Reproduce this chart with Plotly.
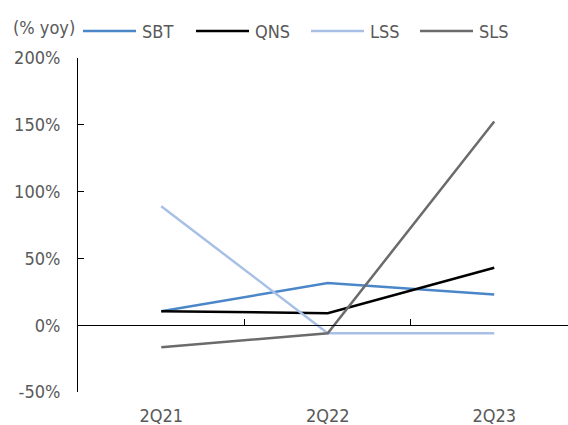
import plotly.graph_objects as go

categories = ["2Q21", "2Q22", "2Q23"]
sbt = [10.5, 31.5, 23.0]
qns = [10.5, 9.0, 43.0]
lss = [89.0, -6.0, -6.0]
sls = [-16.5, -6.0, 152.5]
y_ticks = [-50, 0, 50, 100, 150, 200]
y_tick_labels = ["-50%", "0%", "50%", "100%", "150%", "200%"]
series_names = ["SBT", "QNS", "LSS", "SLS"]
series_values = [sbt, qns, lss, sls]
series_colors = ["#4a86c8", "#000000", "#a9c0e6", "#6b6b6b"]

font_family = "DejaVu Sans Condensed, DejaVu Sans"
text_color = "#595959"
fsize = 18

W, H = 568, 425
ML, MR, MT, MB = 78, 0, 58, 33
PW, PH = W - ML - MR, H - MT - MB


def px_x(x):
    return (x - ML) / PW


def px_y(y):
    return (H - MB - y) / PH


fig = go.Figure()
for name, vals, color in zip(series_names, series_values, series_colors):
    fig.add_trace(go.Scatter(
        x=categories, y=vals, name=name, mode="lines",
        line=dict(color=color, width=2.5),
        xaxis="x", yaxis="y", showlegend=False,
    ))

# helper trace so the zero-line axis carries the same categories
fig.add_trace(go.Scatter(
    x=categories, y=[None] * 3, xaxis="x2", yaxis="y",
    showlegend=False, hoverinfo="skip", mode="lines",
))

# legend row: line sample followed by the series name
legend_starts = [83, 196, 311, 420]
sample_len = 53
shapes, annotations = [], []
for name, color, x0 in zip(series_names, series_colors, legend_starts):
    shapes.append(dict(
        type="line", xref="paper", yref="paper",
        x0=px_x(x0), x1=px_x(x0 + sample_len), y0=px_y(31), y1=px_y(31),
        line=dict(color=color, width=2.5),
    ))
    annotations.append(dict(
        text=name, xref="paper", yref="paper",
        x=px_x(x0 + sample_len + 4), y=px_y(32),
        xanchor="left", yanchor="middle", showarrow=False,
        font=dict(size=fsize, color=text_color),
    ))

annotations.append(dict(
    text="(% yoy)", xref="paper", yref="paper",
    x=px_x(11), y=px_y(27), xanchor="left", yanchor="middle",
    showarrow=False, font=dict(size=fsize, color=text_color),
))

fig.update_layout(
    width=W, height=H,
    margin=dict(l=ML, r=MR, t=MT, b=MB, autoexpand=False),
    paper_bgcolor="white", plot_bgcolor="white",
    font=dict(family=font_family, size=fsize, color=text_color),
    showlegend=False,
    xaxis=dict(
        type="category", range=[-0.5, 2.443],
        showline=False, showgrid=False, zeroline=False,
        ticks="", tickfont=dict(size=fsize, color=text_color),
        ticklabelstandoff=11,
    ),
    xaxis2=dict(
        type="category", range=[-0.5, 2.443], overlaying="x",
        anchor="free", position=0.2,
        showline=True, linecolor="#000000", linewidth=1,
        showgrid=False, zeroline=False, showticklabels=False,
        ticks="inside", ticklen=6, tickcolor="#000000",
        tickson="boundaries",
    ),
    yaxis=dict(
        range=[-50, 200], tickvals=y_ticks, ticktext=y_tick_labels,
        showline=True, linecolor="#000000", linewidth=1,
        showgrid=False, zeroline=False,
        ticks="inside", ticklen=6, tickcolor="#000000",
        tickfont=dict(size=fsize, color=text_color),
        ticklabelstandoff=13,
    ),
    shapes=shapes,
    annotations=annotations,
)

fig.write_html("out.html")
